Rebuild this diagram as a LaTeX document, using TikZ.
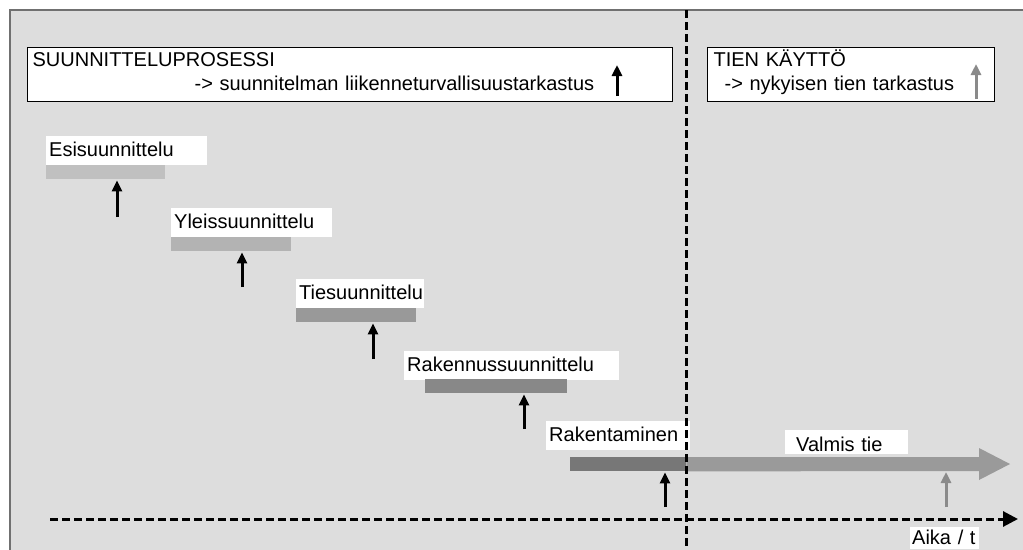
\documentclass[tikz,border=0pt]{standalone}
\usepackage{fontspec}
\setmainfont{Liberation Sans}
\usetikzlibrary{arrows.meta}

\definecolor{tausta}{HTML}{DDDDDD}
\definecolor{reuna}{HTML}{707070}
\definecolor{vaihe1}{HTML}{C0C0C0}
\definecolor{vaihe2}{HTML}{B3B3B3}
\definecolor{vaihe3}{HTML}{999999}
\definecolor{vaihe4}{HTML}{888888}
\definecolor{vaihe5}{HTML}{777777}
\definecolor{valmis}{HTML}{9A9A9A}
\definecolor{harmaa}{HTML}{8A8A8A}

\begin{document}
\begin{tikzpicture}[
x=1pt, y=-1pt,
every node/.style={font=\fontsize{20}{24}\selectfont},
otsikko/.style={draw, line width=1.2pt, fill=white, anchor=north west, align=left,
	inner xsep=5pt, inner ysep=0pt, minimum height=54pt, text height=14pt, text depth=30pt},
nimi/.style={fill=white, anchor=north west, align=left, inner xsep=3pt, inner ysep=0pt,
	minimum height=29pt, text height=15pt, text depth=4pt, text width=#1},
palkki/.style={anchor=north west, inner sep=0pt, minimum height=14pt, minimum width=#1},
nuoli/.style={line width=3pt, -{Triangle[width=10pt,length=11pt]}},
katko/.style={line width=3pt, dash pattern=on 8pt off 4pt},
%nuoli/.style={line width=2pt, -Latex},
]
\useasboundingbox (0,0) rectangle (1023,549);
\draw[fill=tausta, draw=reuna, line width=1.5pt] (10,10) rectangle (1040,570);

% otsikkolaatikot
\node[otsikko, text width=635pt] (suun) at (27,47)
	{SUUNNITTELUPROSESSI\\\hspace*{162pt}-> suunnitelman liikenneturvallisuustarkastus};
\node[otsikko, text width=275pt, inner xsep=6pt] (kaytto) at (707,47)
	{TIEN KÄYTTÖ\\\hspace*{11pt}-> nykyisen tien tarkastus};
\coordinate (t1) at (617,96);
\coordinate (t2) at (976,99);
\draw[nuoli] (t1) -- ++(0,-31);
\draw[nuoli, harmaa] (t2) -- ++(0,-35);

% vaiheet
\node[nimi=155pt] (esiL) at (46,136) {Esisuunnittelu};
\node[palkki=119pt, fill=vaihe1] (esiP) at (46,165) {};
\node[nimi=155pt] (yleL) at (171,208) {Yleissuunnittelu};
\node[palkki=120pt, fill=vaihe2] (yleP) at (171,237) {};
\node[nimi=122pt] (tieL) at (296,279) {Tiesuunnittelu};
\node[palkki=120pt, fill=vaihe3] (tieP) at (296,308) {};
\node[nimi=209pt] (rakL) at (404,351) {Rakennussuunnittelu};
\node[palkki=142pt, fill=vaihe4] (rakP) at (425,379) {};
\node[nimi=138pt] (rtL) at (546,421) {Rakentaminen};
\node[palkki=116pt, fill=vaihe5] (rtP) at (570,457) {};

% valmis tie
\fill[valmis] (rtP.north east) -- (979,457) -- (979,448) -- (1010,464) -- (979,480)
	-- (979,471) -- (rtP.south east) -- cycle;
\coordinate (valmisA) at (946,471);
\node[nimi=101pt, inner xsep=11pt, minimum height=24pt, text height=18.5pt, text depth=0.5pt]
	(valL) at (785,430) {Valmis tie};

% aikaraja
\coordinate (raja1) at (686,10);
\coordinate (raja2) at (686,560);
\draw[katko] (raja1) -- (raja2);

% tarkastukset
\coordinate (n1) at (117,217);
\coordinate (n2) at (242,287);
\coordinate (n3) at (373,359);
\coordinate (n4) at (524,429);
\coordinate (n5) at (665,507);
\coordinate (n6) at (946,507);
\draw[nuoli, shorten >=1pt] (n1) -- (n1 |- esiP.south);
\draw[nuoli, shorten >=1pt] (n2) -- (n2 |- yleP.south);
\draw[nuoli, shorten >=1pt] (n3) -- (n3 |- tieP.south);
\draw[nuoli, shorten >=1pt] (n4) -- (n4 |- rakP.south);
\draw[nuoli, shorten >=1pt] (n5) -- (n5 |- rtP.south);
\draw[nuoli, harmaa, shorten >=1pt] (n6) -- (valmisA);

% aika-akseli
\coordinate (alku) at (50,519);
\coordinate (loppu) at (1018,519);
\draw[katko, -{Triangle[width=15pt,length=15pt]}] (alku) -- (loppu);
\node[nimi=65pt, inner xsep=2pt, minimum height=22pt, text depth=2pt] (aika) at (910,527) {Aika / t};
\end{tikzpicture}
\end{document}
